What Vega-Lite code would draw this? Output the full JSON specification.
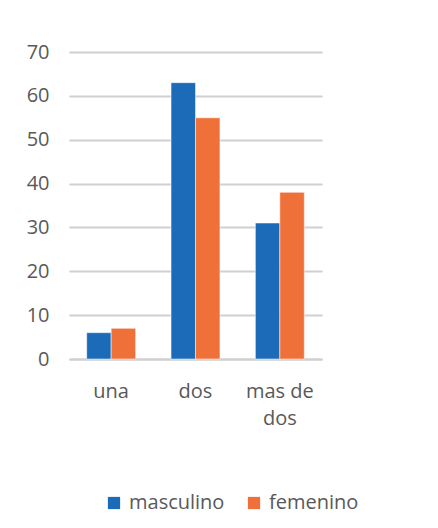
{
  "$schema": "https://vega.github.io/schema/vega-lite/v6.json",
  "autosize": {"type": "none"},
  "width": 253,
  "height": 307,
  "padding": {"left": 69, "top": 52, "right": 116, "bottom": 169},
  "background": "white",
  "data": {
    "values": [
      {"categoria": "una", "sexo": "masculino", "valor": 6},
      {"categoria": "una", "sexo": "femenino", "valor": 7},
      {"categoria": "dos", "sexo": "masculino", "valor": 63},
      {"categoria": "dos", "sexo": "femenino", "valor": 55},
      {"categoria": "mas de dos", "sexo": "masculino", "valor": 31},
      {"categoria": "mas de dos", "sexo": "femenino", "valor": 38}
    ]
  },
  "mark": {"type": "bar", "stroke": "white", "strokeWidth": 0.5},
  "encoding": {
    "x": {
      "field": "categoria",
      "type": "nominal",
      "sort": ["una", "dos", "mas de dos"],
      "scale": {"paddingInner": 0.42, "paddingOuter": 0.21},
      "axis": {
        "title": null,
        "labelAngle": 0,
        "ticks": false,
        "domain": true,
        "domainColor": "#d0d0d0",
        "domainWidth": 2,
        "labelPadding": 22,
        "labelFontSize": 20,
        "labelLineHeight": 27,
        "labelColor": "#595959",
        "labelExpr": "datum.label == 'mas de dos' ? ['mas de', 'dos'] : datum.label"
      }
    },
    "xOffset": {"field": "sexo", "type": "nominal", "sort": ["masculino", "femenino"]},
    "y": {
      "field": "valor",
      "type": "quantitative",
      "scale": {"domain": [0, 70]},
      "axis": {
        "title": null,
        "values": [0, 10, 20, 30, 40, 50, 60, 70],
        "ticks": false,
        "domain": false,
        "grid": true,
        "gridColor": "#d0d0d0",
        "gridWidth": 2,
        "labelPadding": 20,
        "labelFontSize": 20,
        "labelColor": "#595959"
      }
    },
    "color": {
      "field": "sexo",
      "type": "nominal",
      "sort": ["masculino", "femenino"],
      "scale": {"domain": ["masculino", "femenino"], "range": ["#1B6BB8", "#F0703A"]},
      "legend": {
        "title": null,
        "orient": "none",
        "direction": "horizontal",
        "legendX": 35,
        "legendY": 441,
        "symbolType": "square",
        "symbolSize": 150,
        "symbolStrokeWidth": 0,
        "labelFontSize": 20,
        "labelColor": "#595959",
        "labelOffset": 5,
        "columnPadding": 19
      }
    }
  },
  "config": {
    "font": "Open Sans",
    "view": {"stroke": null}
  }
}
